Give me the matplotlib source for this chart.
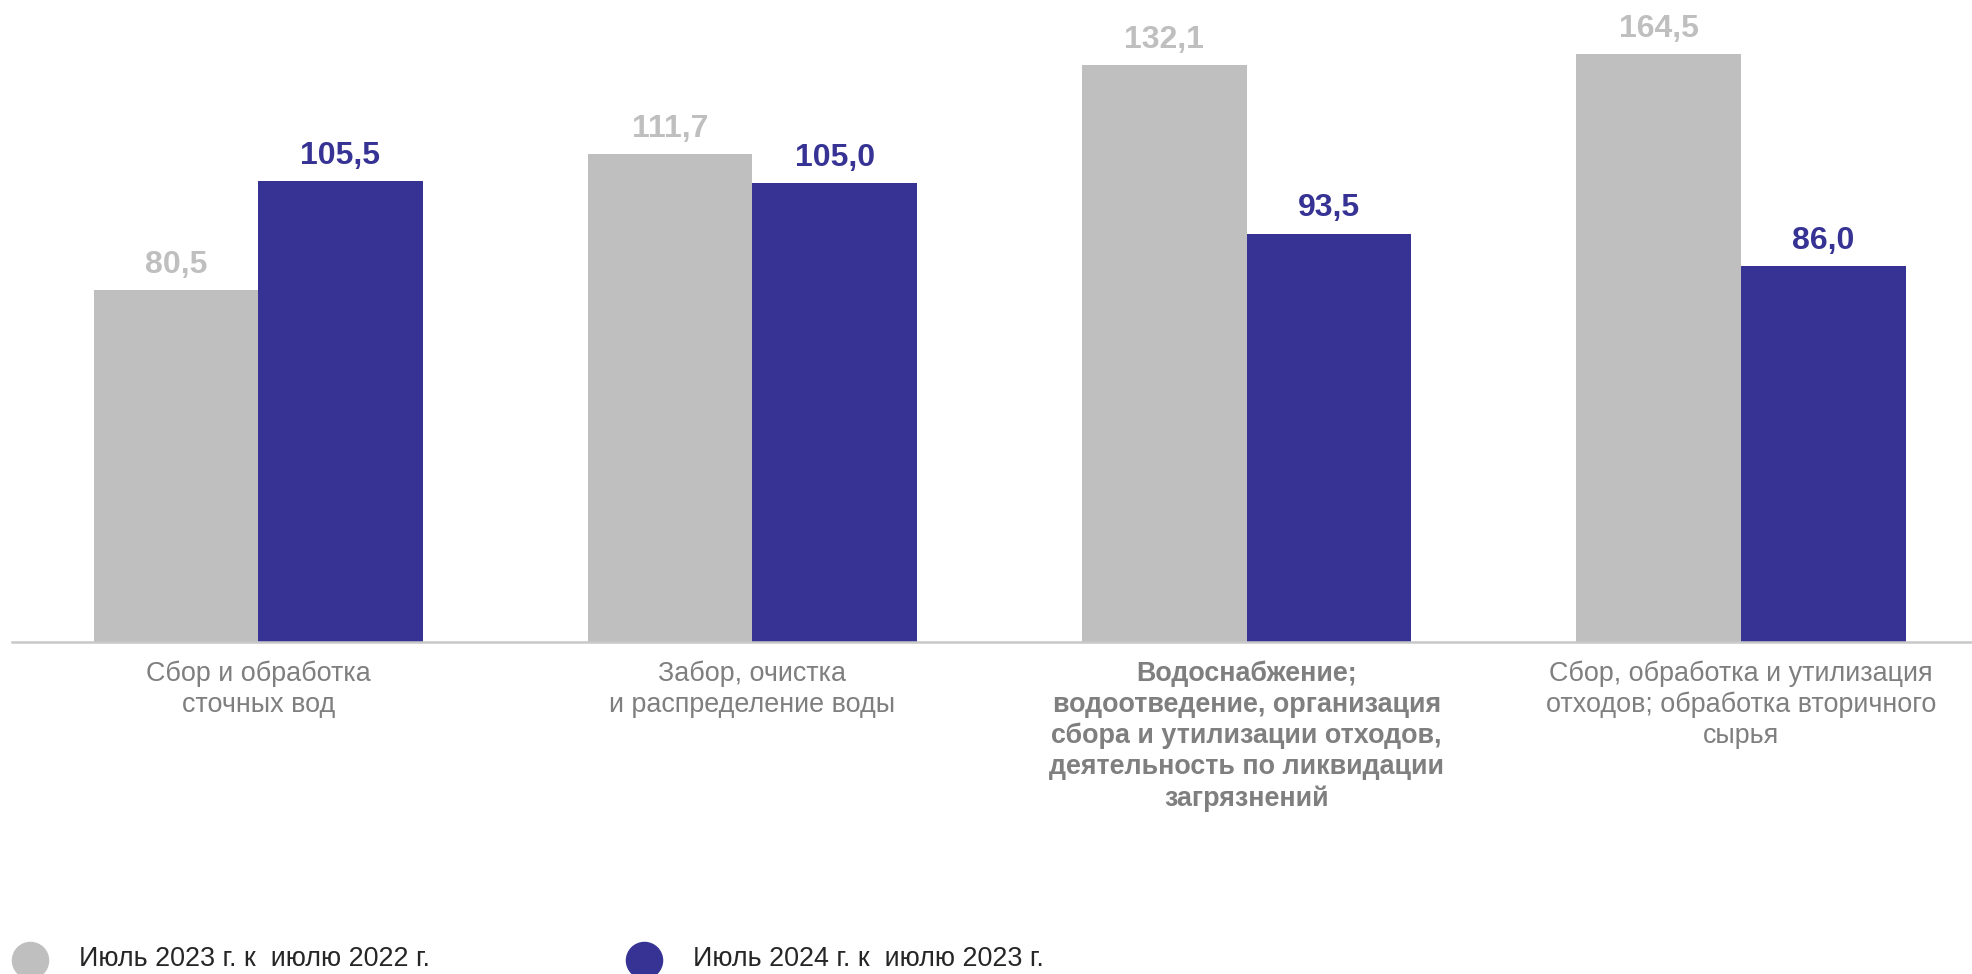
import numpy as np
import matplotlib.pyplot as plt
from matplotlib.lines import Line2D

plt.rcParams['font.family'] = ['Liberation Sans', 'DejaVu Sans']

# Data
categories = [
    "Сбор и обработка\nсточных вод",
    "Забор, очистка\nи распределение воды",
    "Водоснабжение;\nводоотведение, организация\nсбора и утилизации отходов,\nдеятельность по ликвидации\nзагрязнений",
    "Сбор, обработка и утилизация\nотходов; обработка вторичного\nсырья",
]
jul_2023 = [80.5, 111.7, 132.1, 164.5]
jul_2024 = [105.5, 105.0, 93.5, 86.0]
series_names = ["Июль 2023 г. к  июлю 2022 г.", "Июль 2024 г. к  июлю 2023 г."]

gray = "#BFBFBF"
blue = "#363394"
y_top = 134.6

fig = plt.figure(figsize=(19.72, 9.74), dpi=100)
ax = fig.add_axes([12 / 1972, 1 - 642 / 974, 1 - 12 / 1972, (642 - 54) / 974])

x = np.arange(len(categories))
w = 0.333
ax.bar(x - w / 2, jul_2023, w, color=gray)
ax.bar(x + w / 2, jul_2024, w, color=blue)

ax.set_xlim(-0.498, 3.4675)
ax.set_ylim(0, y_top)

# value labels (tall bars are cut at the top of the axes)
for xi, v in zip(x - w / 2, jul_2023):
    ax.annotate(f"{v:.1f}".replace(".", ","), (xi, min(v, y_top)), xytext=(0, 12.5),
                textcoords="offset points", ha="center", va="baseline",
                fontsize=23, fontweight="bold", color=gray, annotation_clip=False)
for xi, v in zip(x + w / 2, jul_2024):
    ax.annotate(f"{v:.1f}".replace(".", ","), (xi, min(v, y_top)), xytext=(0, 12.5),
                textcoords="offset points", ha="center", va="baseline",
                fontsize=23, fontweight="bold", color=blue, annotation_clip=False)

for s in ["top", "left", "right"]:
    ax.spines[s].set_visible(False)
ax.spines["bottom"].set_color("#C8C8C8")
ax.spines["bottom"].set_linewidth(1.8)
ax.set_yticks([])
ax.set_xticks(x)
ax.set_xticklabels(categories, fontsize=19.4, color="#7F7F7F", linespacing=1.25)
ax.tick_params(axis="x", length=0, pad=13)
ax.get_xticklabels()[2].set_fontweight("bold")

# legend
for cx, tx, col, name in [(30, 79, gray, series_names[0]), (644, 693, blue, series_names[1])]:
    fig.add_artist(Line2D([cx / 1972], [14 / 974], marker="o", markersize=26, ls="",
                          color=col, transform=fig.transFigure))
    fig.text(tx / 1972, 8 / 974, name, fontsize=19.4, color="#262626", va="baseline")

fig.savefig("out.png", dpi=100)
